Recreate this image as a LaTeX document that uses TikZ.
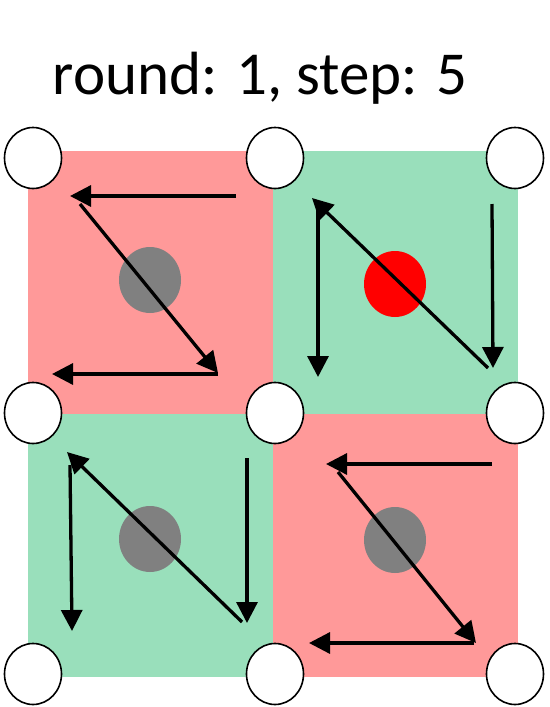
\documentclass[tikz,border=0pt]{standalone}
\usepackage{fontspec}
\setmainfont{Carlito}
\usetikzlibrary{shapes.geometric,arrows.meta}
\definecolor{cellred}{RGB}{255,153,153}
\definecolor{cellgreen}{RGB}{153,223,187}
\definecolor{dotgrey}{RGB}{128,128,128}

\begin{document}
\begin{tikzpicture}[x=1pt,y=-1pt,
    vertex/.style={ellipse, draw=black, line width=1.6pt, fill=white, minimum width=57pt, minimum height=61pt},
    token/.style={ellipse, inner sep=0pt, minimum width=62pt, minimum height=66pt},
    move/.style={line width=3.3pt, -{Triangle[length=21pt,width=21pt]}}]
    \useasboundingbox (0,0) rectangle (549,707);

    % Title
    \node[anchor=base, font=\fontsize{61}{64}\selectfont] (title) at (260,94) {round: 1, step: 5};

    % Cells
    \fill[cellred]   (28,151)  rectangle (273,414);
    \fill[cellgreen] (273,151) rectangle (518,414);
    \fill[cellgreen] (28,414)  rectangle (273,677);
    \fill[cellred]   (273,414) rectangle (518,677);

    % Tokens
    \node[token, fill=dotgrey] (tokTL) at (150,280) {};
    \node[token, fill=red]     (tokTR) at (395,284) {};
    \node[token, fill=dotgrey] (tokBL) at (150,539) {};
    \node[token, fill=dotgrey] (tokBR) at (395,540) {};

    % Moves, top left (Z)
    \coordinate (tl1) at (236,196); \coordinate (tl2) at (70,196);
    \coordinate (tl3) at (80,204);  \coordinate (tl4) at (218,373);
    \coordinate (tl5) at (218,374); \coordinate (tl6) at (52,374);
    \draw[move] (tl1) -- (tl2);
    \draw[move] (tl3) -- (tl4);
    \draw[move] (tl5) -- (tl6);

    % Moves, top right (N)
    \coordinate (tr1) at (492,204); \coordinate (tr2) at (493,368);
    \coordinate (tr3) at (488,368); \coordinate (tr4) at (312,198);
    \coordinate (tr5) at (318,210); \coordinate (tr6) at (318,377);
    \draw[move] (tr1) -- (tr2);
    \draw[move] (tr3) -- (tr4);
    \draw[move] (tr5) -- (tr6);

    % Moves, bottom left (N)
    \coordinate (bl1) at (247,458); \coordinate (bl2) at (247,623);
    \coordinate (bl3) at (242,622); \coordinate (bl4) at (67,452);
    \coordinate (bl5) at (70,465);  \coordinate (bl6) at (72,631);
    \draw[move] (bl1) -- (bl2);
    \draw[move] (bl3) -- (bl4);
    \draw[move] (bl5) -- (bl6);

    % Moves, bottom right (Z)
    \coordinate (br1) at (492,464); \coordinate (br2) at (326,464);
    \coordinate (br3) at (338,472); \coordinate (br4) at (476,643);
    \coordinate (br5) at (474,643); \coordinate (br6) at (309,643);
    \draw[move] (br1) -- (br2);
    \draw[move] (br3) -- (br4);
    \draw[move] (br5) -- (br6);

    % Vertices
    \foreach \x/\c in {33/0, 275/1, 515/2}
        \foreach \y/\r in {158/0, 413/1, 674/2}
            \node[vertex] (v\r\c) at (\x,\y) {};
\end{tikzpicture}
\end{document}
